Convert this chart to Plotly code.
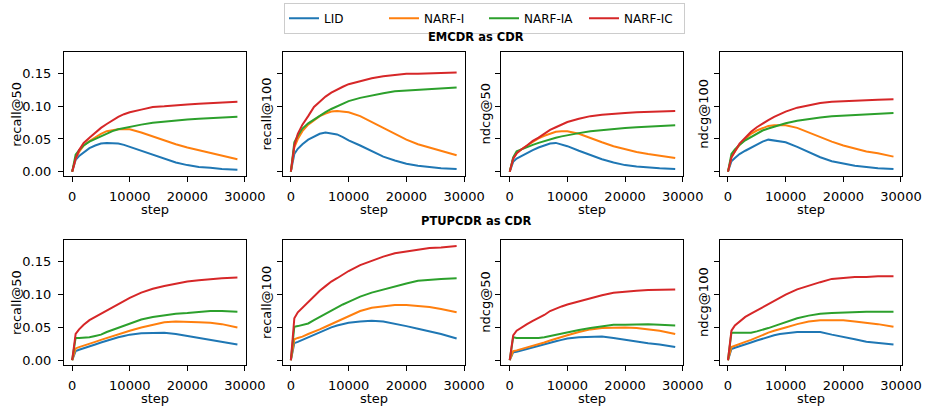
import plotly.graph_objects as go

# ---------------- data ----------------
steps = [0, 600, 1200, 2000, 3000, 4000, 5000, 6000, 7000, 8000, 9000, 10000,
         12000, 14000, 16000, 18000, 20000, 22000, 24000, 26000, 28700]

methods = ["LID", "NARF-I", "NARF-IA", "NARF-IC"]
colors = ["#1f77b4", "#ff7f0e", "#2ca02c", "#d62728"]
metrics = ["recall@50", "recall@100", "ndcg@50", "ndcg@100"]
row_titles = ["EMCDR as CDR", "PTUPCDR as CDR"]
x_ticks = [0, 10000, 20000, 30000]
x_ticktext = ["0", "10000", "20000", "30000"]
y_ticks = [0.0, 0.05, 0.10, 0.15]
y_ticktext = ["0.00", "0.05", "0.10", "0.15"]

# EMCDR as CDR
emcdr_recall50_LID = [0, 0.018, 0.024, 0.030, 0.036, 0.040, 0.043, 0.044, 0.044, 0.043, 0.041, 0.038, 0.032, 0.025, 0.019, 0.014, 0.010, 0.007, 0.006, 0.004, 0.003]
emcdr_recall50_NARF_I = [0, 0.020, 0.030, 0.040, 0.047, 0.053, 0.058, 0.062, 0.064, 0.065, 0.065, 0.065, 0.060, 0.054, 0.047, 0.042, 0.037, 0.033, 0.029, 0.025, 0.019]
emcdr_recall50_NARF_IA = [0, 0.026, 0.033, 0.040, 0.046, 0.050, 0.055, 0.059, 0.062, 0.065, 0.067, 0.069, 0.072, 0.075, 0.077, 0.079, 0.080, 0.081, 0.082, 0.083, 0.084]
emcdr_recall50_NARF_IC = [0, 0.020, 0.033, 0.044, 0.052, 0.060, 0.067, 0.073, 0.079, 0.084, 0.088, 0.091, 0.095, 0.099, 0.100, 0.102, 0.103, 0.104, 0.105, 0.106, 0.107]

emcdr_recall100_LID = [0, 0.027, 0.035, 0.042, 0.049, 0.054, 0.058, 0.060, 0.059, 0.057, 0.053, 0.048, 0.040, 0.031, 0.023, 0.017, 0.012, 0.009, 0.007, 0.005, 0.004]
emcdr_recall100_NARF_I = [0, 0.037, 0.050, 0.062, 0.072, 0.079, 0.085, 0.089, 0.092, 0.093, 0.092, 0.091, 0.085, 0.076, 0.066, 0.057, 0.049, 0.042, 0.037, 0.032, 0.025]
emcdr_recall100_NARF_IA = [0, 0.045, 0.055, 0.066, 0.074, 0.080, 0.086, 0.091, 0.096, 0.100, 0.104, 0.108, 0.113, 0.117, 0.120, 0.123, 0.124, 0.125, 0.126, 0.127, 0.129]
emcdr_recall100_NARF_IC = [0, 0.040, 0.058, 0.072, 0.085, 0.099, 0.107, 0.115, 0.121, 0.126, 0.130, 0.134, 0.139, 0.143, 0.146, 0.148, 0.150, 0.150, 0.151, 0.151, 0.152]

emcdr_ndcg50_LID = [0, 0.015, 0.020, 0.024, 0.028, 0.033, 0.037, 0.040, 0.043, 0.044, 0.042, 0.039, 0.032, 0.025, 0.019, 0.014, 0.010, 0.008, 0.006, 0.005, 0.004]
emcdr_ndcg50_NARF_I = [0, 0.020, 0.028, 0.034, 0.040, 0.046, 0.051, 0.055, 0.058, 0.061, 0.062, 0.062, 0.058, 0.051, 0.045, 0.039, 0.034, 0.030, 0.027, 0.024, 0.021]
emcdr_ndcg50_NARF_IA = [0, 0.022, 0.031, 0.034, 0.038, 0.041, 0.044, 0.047, 0.049, 0.052, 0.054, 0.056, 0.059, 0.062, 0.064, 0.066, 0.067, 0.068, 0.069, 0.070, 0.071]
emcdr_ndcg50_NARF_IC = [0, 0.020, 0.028, 0.034, 0.040, 0.047, 0.052, 0.058, 0.064, 0.068, 0.072, 0.076, 0.081, 0.085, 0.087, 0.089, 0.090, 0.091, 0.092, 0.092, 0.093]

emcdr_ndcg100_LID = [0, 0.016, 0.021, 0.027, 0.032, 0.037, 0.042, 0.046, 0.049, 0.048, 0.047, 0.045, 0.038, 0.030, 0.022, 0.016, 0.012, 0.009, 0.007, 0.005, 0.004]
emcdr_ndcg100_NARF_I = [0, 0.022, 0.031, 0.041, 0.050, 0.058, 0.063, 0.067, 0.070, 0.071, 0.071, 0.071, 0.067, 0.060, 0.052, 0.046, 0.040, 0.035, 0.031, 0.028, 0.023]
emcdr_ndcg100_NARF_IA = [0, 0.027, 0.034, 0.041, 0.048, 0.053, 0.058, 0.063, 0.066, 0.069, 0.072, 0.074, 0.078, 0.081, 0.083, 0.085, 0.086, 0.087, 0.088, 0.089, 0.090]
emcdr_ndcg100_NARF_IC = [0, 0.022, 0.031, 0.043, 0.052, 0.061, 0.068, 0.074, 0.079, 0.084, 0.088, 0.092, 0.098, 0.102, 0.105, 0.107, 0.108, 0.109, 0.109, 0.110, 0.111]

# PTUPCDR as CDR
ptup_recall50_LID = [0, 0.014, 0.016, 0.018, 0.021, 0.024, 0.027, 0.030, 0.033, 0.035, 0.037, 0.039, 0.041, 0.041, 0.042, 0.040, 0.037, 0.034, 0.030, 0.028, 0.024]
ptup_recall50_NARF_I = [0, 0.018, 0.020, 0.022, 0.025, 0.028, 0.031, 0.034, 0.037, 0.040, 0.043, 0.045, 0.050, 0.054, 0.058, 0.059, 0.059, 0.058, 0.057, 0.055, 0.050]
ptup_recall50_NARF_IA = [0, 0.034, 0.034, 0.034, 0.035, 0.037, 0.039, 0.043, 0.046, 0.049, 0.053, 0.056, 0.062, 0.066, 0.069, 0.071, 0.072, 0.074, 0.075, 0.075, 0.074]
ptup_recall50_NARF_IC = [0, 0.040, 0.047, 0.054, 0.061, 0.066, 0.070, 0.075, 0.080, 0.085, 0.090, 0.095, 0.103, 0.109, 0.113, 0.117, 0.120, 0.122, 0.124, 0.125, 0.126]

ptup_recall100_LID = [0, 0.026, 0.028, 0.031, 0.035, 0.039, 0.043, 0.047, 0.050, 0.053, 0.055, 0.057, 0.059, 0.060, 0.059, 0.056, 0.052, 0.048, 0.044, 0.040, 0.033]
ptup_recall100_NARF_I = [0, 0.032, 0.034, 0.036, 0.040, 0.043, 0.047, 0.051, 0.055, 0.059, 0.063, 0.067, 0.075, 0.080, 0.082, 0.084, 0.084, 0.083, 0.081, 0.078, 0.073]
ptup_recall100_NARF_IA = [0, 0.051, 0.052, 0.054, 0.056, 0.061, 0.066, 0.071, 0.076, 0.080, 0.085, 0.089, 0.097, 0.103, 0.108, 0.113, 0.117, 0.121, 0.123, 0.124, 0.125]
ptup_recall100_NARF_IC = [0, 0.064, 0.073, 0.080, 0.089, 0.098, 0.106, 0.113, 0.120, 0.125, 0.131, 0.136, 0.145, 0.152, 0.158, 0.163, 0.166, 0.169, 0.171, 0.172, 0.174]

ptup_ndcg50_LID = [0, 0.012, 0.013, 0.015, 0.017, 0.019, 0.022, 0.024, 0.027, 0.029, 0.031, 0.033, 0.035, 0.036, 0.036, 0.034, 0.031, 0.028, 0.026, 0.024, 0.020]
ptup_ndcg50_NARF_I = [0, 0.014, 0.015, 0.017, 0.019, 0.021, 0.024, 0.027, 0.030, 0.033, 0.036, 0.038, 0.043, 0.047, 0.049, 0.050, 0.050, 0.049, 0.047, 0.045, 0.040]
ptup_ndcg50_NARF_IA = [0, 0.035, 0.034, 0.034, 0.033, 0.033, 0.034, 0.035, 0.037, 0.039, 0.041, 0.043, 0.046, 0.049, 0.052, 0.054, 0.054, 0.055, 0.055, 0.054, 0.053]
ptup_ndcg50_NARF_IC = [0, 0.038, 0.045, 0.050, 0.055, 0.060, 0.064, 0.069, 0.075, 0.079, 0.082, 0.085, 0.090, 0.095, 0.099, 0.103, 0.105, 0.106, 0.107, 0.107, 0.108]

ptup_ndcg100_LID = [0, 0.017, 0.019, 0.021, 0.024, 0.027, 0.030, 0.033, 0.036, 0.038, 0.040, 0.041, 0.043, 0.043, 0.043, 0.039, 0.036, 0.032, 0.028, 0.026, 0.024]
ptup_ndcg100_NARF_I = [0, 0.020, 0.022, 0.025, 0.028, 0.031, 0.035, 0.038, 0.042, 0.045, 0.048, 0.050, 0.055, 0.059, 0.061, 0.061, 0.061, 0.059, 0.057, 0.055, 0.051]
ptup_ndcg100_NARF_IA = [0, 0.042, 0.042, 0.042, 0.041, 0.042, 0.044, 0.046, 0.049, 0.052, 0.055, 0.058, 0.064, 0.068, 0.071, 0.072, 0.073, 0.074, 0.074, 0.074, 0.074]
ptup_ndcg100_NARF_IC = [0, 0.045, 0.053, 0.059, 0.066, 0.071, 0.076, 0.081, 0.086, 0.091, 0.096, 0.100, 0.108, 0.114, 0.119, 0.124, 0.126, 0.127, 0.127, 0.128, 0.128]

panels = [
    [  # row 1: EMCDR
        [emcdr_recall50_LID, emcdr_recall50_NARF_I, emcdr_recall50_NARF_IA, emcdr_recall50_NARF_IC],
        [emcdr_recall100_LID, emcdr_recall100_NARF_I, emcdr_recall100_NARF_IA, emcdr_recall100_NARF_IC],
        [emcdr_ndcg50_LID, emcdr_ndcg50_NARF_I, emcdr_ndcg50_NARF_IA, emcdr_ndcg50_NARF_IC],
        [emcdr_ndcg100_LID, emcdr_ndcg100_NARF_I, emcdr_ndcg100_NARF_IA, emcdr_ndcg100_NARF_IC],
    ],
    [  # row 2: PTUPCDR
        [ptup_recall50_LID, ptup_recall50_NARF_I, ptup_recall50_NARF_IA, ptup_recall50_NARF_IC],
        [ptup_recall100_LID, ptup_recall100_NARF_I, ptup_recall100_NARF_IA, ptup_recall100_NARF_IC],
        [ptup_ndcg50_LID, ptup_ndcg50_NARF_I, ptup_ndcg50_NARF_IA, ptup_ndcg50_NARF_IC],
        [ptup_ndcg100_LID, ptup_ndcg100_NARF_I, ptup_ndcg100_NARF_IA, ptup_ndcg100_NARF_IC],
    ],
]

# ---------------- layout geometry (pixels) ----------------
W, H = 943, 409
col_px = [(65.3, 251.0), (288.7, 475.0), (512.3, 698.3), (735.3, 921.3)]
row_px = [(52.3, 177.7), (241.7, 367.7)]
FONT = "DejaVu Sans"

fig = go.Figure()
layout = dict(
    width=W, height=H,
    margin=dict(l=0, r=0, t=0, b=0),
    paper_bgcolor="white", plot_bgcolor="white",
    font=dict(family=FONT, size=13, color="black"),
    showlegend=True,
    legend=dict(
        orientation="h", x=495 / W, xanchor="center", y=1 - 2.7 / H, yanchor="top",
        bordercolor="#cccccc", borderwidth=1, bgcolor="white",
        font=dict(family=FONT, size=12, color="black"),
        itemwidth=30, entrywidth=55, entrywidthmode="pixels",
    ),
)
annotations = []

for r in range(2):
    for c in range(4):
        idx = r * 4 + c + 1
        xa = "x" if idx == 1 else f"x{idx}"
        ya = "y" if idx == 1 else f"y{idx}"
        for m in range(4):
            fig.add_trace(go.Scatter(
                x=steps, y=panels[r][c][m], mode="lines",
                line=dict(color=colors[m], width=2),
                name=methods[m], legendgroup=methods[m],
                showlegend=(idx == 1),
                xaxis=xa, yaxis=ya,
            ))
        x0, x1 = col_px[c]
        y0, y1 = row_px[r]
        axis_common = dict(
            showgrid=False, zeroline=False, showline=True, linecolor="black",
            linewidth=1.1, mirror=True, ticks="outside", ticklen=5, tickwidth=1.1,
            tickcolor="black", tickfont=dict(family=FONT, size=13, color="black"),
        )
        layout["xaxis" if idx == 1 else f"xaxis{idx}"] = dict(
            domain=[x0 / W, x1 / W], anchor=ya, range=[-1435, 30135],
            tickvals=x_ticks, ticktext=x_ticktext,
            ticklabelstandoff=3, **axis_common,
        )
        layout["yaxis" if idx == 1 else f"yaxis{idx}"] = dict(
            domain=[1 - y1 / H, 1 - y0 / H], anchor=xa, range=[-0.0073, 0.1834],
            tickvals=y_ticks, ticktext=y_ticktext,
            showticklabels=(c == 0), ticklabelstandoff=4, **axis_common,
        )
        # y-axis title
        ytx = 17.0 if c == 0 else x0 - 16.5
        annotations.append(dict(
            text=metrics[c], xref="paper", yref="paper",
            x=ytx / W, y=1 - (y0 + y1) / 2 / H, xanchor="center", yanchor="middle",
            textangle=-90, showarrow=False, font=dict(family=FONT, size=13, color="black"),
        ))
        # x-axis title
        annotations.append(dict(
            text="step", xref="paper", yref="paper",
            x=(x0 + x1) / 2 / W, y=1 - (y1 + 33.5) / H, xanchor="center", yanchor="middle",
            showarrow=False, font=dict(family=FONT, size=13, color="black"),
        ))

for r, ty in enumerate([37.5, 223.0]):
    annotations.append(dict(
        text=f"<b>{row_titles[r]}</b>", xref="paper", yref="paper",
        x=486 / W, y=1 - ty / H, xanchor="center", yanchor="middle",
        showarrow=False, font=dict(family=FONT, size=11.5, color="black"),
    ))

layout["annotations"] = annotations
fig.update_layout(**layout)
fig.write_html(
    "out.html",
    config={"displayModeBar": False},
    post_script="document.body.style.margin='0';document.body.style.overflow='hidden';",
)
